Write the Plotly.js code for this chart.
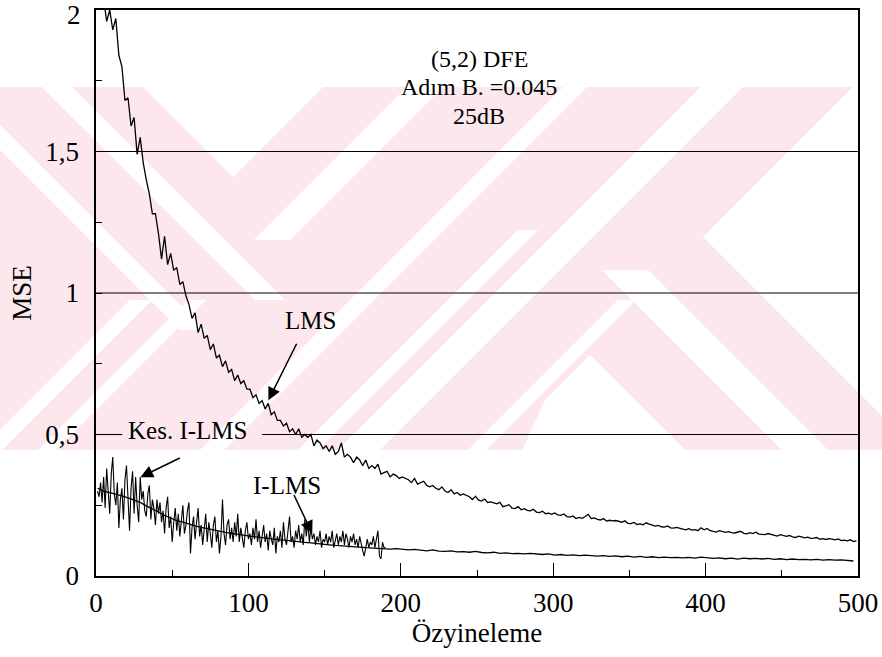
<!DOCTYPE html>
<html>
<head>
<meta charset="utf-8">
<script src="https://cdn.plot.ly/plotly-3.0.1.min.js"></script>
<style>html,body{margin:0;padding:0;background:#fff;}#chart{width:882px;height:657px;}</style>
</head>
<body>
<div id="chart"></div>
<script>
// ---- data ----
// LMS, every 2nd iteration starting at 1
const mseLMS = [
 2.06, 2.02, 2.04, 1.96, 2.00, 1.93, 1.97, 1.84, 1.80, 1.68,
 1.69, 1.59, 1.62, 1.49, 1.55, 1.46, 1.40, 1.35, 1.28, 1.28,
 1.21, 1.12, 1.20, 1.10, 1.14, 1.08, 1.09, 1.03, 1.04, 0.99,
 0.96, 0.91, 0.93, 0.86, 0.89, 0.84, 0.85, 0.80, 0.82, 0.77,
 0.78, 0.74, 0.76, 0.72, 0.73, 0.69, 0.71, 0.68, 0.69, 0.66,
 0.66, 0.63, 0.64, 0.61, 0.62, 0.59, 0.61, 0.57, 0.58, 0.55,
 0.55, 0.53, 0.54, 0.51, 0.52, 0.50, 0.52, 0.49, 0.50, 0.49,
 0.50, 0.46, 0.48, 0.47, 0.45, 0.46, 0.44, 0.46, 0.43, 0.44,
 0.47, 0.42, 0.43, 0.42, 0.40, 0.42, 0.41, 0.39, 0.41, 0.38,
 0.39, 0.38, 0.395, 0.36, 0.365, 0.37, 0.35, 0.36, 0.355, 0.345,
 0.35, 0.345, 0.34, 0.33, 0.345, 0.325, 0.33, 0.335, 0.32, 0.315,
 0.32, 0.31, 0.305, 0.315, 0.30, 0.295, 0.305, 0.29, 0.295, 0.285,
 0.29, 0.285, 0.28, 0.27, 0.282, 0.268, 0.265, 0.272, 0.26, 0.262,
 0.258, 0.255, 0.26, 0.245, 0.248, 0.252, 0.24, 0.238, 0.245, 0.234,
 0.238, 0.232, 0.23, 0.236, 0.226, 0.224, 0.229, 0.22, 0.222, 0.218,
 0.223, 0.216, 0.214, 0.219, 0.21, 0.208, 0.212, 0.203, 0.207, 0.204,
 0.21, 0.218, 0.203, 0.205, 0.2, 0.198, 0.203, 0.194, 0.197, 0.195,
 0.196, 0.192, 0.19, 0.195, 0.186, 0.185, 0.189, 0.182, 0.184, 0.181,
 0.188, 0.183, 0.18, 0.176, 0.179, 0.174, 0.173, 0.177, 0.17, 0.169,
 0.172, 0.168, 0.166, 0.163, 0.167, 0.162, 0.164, 0.16, 0.17, 0.163,
 0.168, 0.16, 0.158, 0.155, 0.16, 0.156, 0.154, 0.157, 0.153, 0.152,
 0.155, 0.158, 0.151, 0.149, 0.153, 0.15, 0.155, 0.148, 0.147, 0.146,
 0.15, 0.147, 0.144, 0.141, 0.146, 0.142, 0.14, 0.143, 0.138, 0.136,
 0.141, 0.138, 0.135, 0.137, 0.133, 0.134, 0.136, 0.13, 0.132, 0.129,
 0.132, 0.13, 0.128, 0.131, 0.125, 0.127, 0.124, 0.128, 0.122, 0.124
];
// I-LMS, every 4th iteration starting at 1
const mseILMS = [
 0.31, 0.30, 0.295, 0.29, 0.283, 0.276, 0.268, 0.26, 0.248, 0.238,
 0.226, 0.214, 0.205, 0.196, 0.19, 0.183, 0.177, 0.172, 0.167, 0.162,
 0.158, 0.154, 0.151, 0.147, 0.144, 0.141, 0.138, 0.135, 0.133, 0.13,
 0.128, 0.126, 0.123, 0.121, 0.119, 0.117, 0.114, 0.112, 0.11, 0.108,
 0.107, 0.105, 0.103, 0.102, 0.1, 0.099, 0.097, 0.098, 0.095, 0.097,
 0.094, 0.092, 0.094, 0.091, 0.089, 0.092, 0.088, 0.087, 0.089, 0.085,
 0.086, 0.084, 0.087, 0.083, 0.082, 0.084, 0.08, 0.082, 0.079, 0.08,
 0.078, 0.08, 0.077, 0.076, 0.078, 0.074, 0.076, 0.073, 0.075, 0.072,
 0.074, 0.071, 0.07, 0.072, 0.069, 0.071, 0.068, 0.07, 0.067, 0.069,
 0.066, 0.068, 0.065, 0.067, 0.065, 0.066, 0.064, 0.066, 0.063, 0.067,
 0.064, 0.062, 0.064, 0.061, 0.063, 0.06, 0.063, 0.061, 0.062, 0.06,
 0.062, 0.059, 0.061, 0.058, 0.06, 0.058, 0.059, 0.057, 0.059, 0.056,
 0.058, 0.056, 0.057, 0.055, 0.053
];
// Kes. I-LMS, every iteration 1..190
const mseKes = [
 0.30, 0.28, 0.33, 0.26, 0.35, 0.24, 0.38, 0.30, 0.22, 0.36,
 0.42, 0.29, 0.25, 0.33, 0.17, 0.27, 0.31, 0.20, 0.34, 0.39,
 0.24, 0.16, 0.31, 0.37, 0.22, 0.35, 0.25, 0.19, 0.35, 0.27,
 0.30, 0.23, 0.21, 0.29, 0.32, 0.20, 0.27, 0.24, 0.18, 0.27,
 0.22, 0.26, 0.19, 0.23, 0.15, 0.24, 0.28, 0.17, 0.21, 0.12,
 0.19, 0.24, 0.16, 0.22, 0.14, 0.20, 0.25, 0.15, 0.18, 0.23,
 0.26, 0.08, 0.17, 0.21, 0.13, 0.19, 0.24, 0.14, 0.18, 0.11,
 0.17, 0.22, 0.12, 0.19, 0.15, 0.10, 0.18, 0.21, 0.12, 0.16,
 0.08, 0.14, 0.27, 0.15, 0.11, 0.18, 0.20, 0.13, 0.17, 0.12,
 0.19, 0.14, 0.22, 0.12, 0.17, 0.14, 0.10, 0.16, 0.19, 0.13,
 0.15, 0.11, 0.17, 0.13, 0.20, 0.12, 0.16, 0.10, 0.14, 0.18,
 0.12, 0.15, 0.09, 0.16, 0.13, 0.11, 0.17, 0.08, 0.14, 0.12,
 0.16, 0.10, 0.19, 0.13, 0.11, 0.15, 0.21, 0.12, 0.14, 0.10,
 0.16, 0.13, 0.18, 0.12, 0.15, 0.11, 0.20, 0.14, 0.19, 0.12,
 0.17, 0.13, 0.15, 0.11, 0.14, 0.12, 0.16, 0.10, 0.13, 0.12,
 0.15, 0.11, 0.14, 0.12, 0.16, 0.10, 0.13, 0.15, 0.11, 0.14,
 0.12, 0.16, 0.11, 0.15, 0.13, 0.10, 0.14, 0.12, 0.15, 0.11,
 0.13, 0.10, 0.14, 0.12, 0.09, 0.07, 0.11, 0.13, 0.10, 0.12,
 0.11, 0.14, 0.10, 0.13, 0.16, 0.07, 0.06, 0.12, 0.10, 0.10
];
const xTickVals = [0, 100, 200, 300, 400, 500];
const yTickVals = [0, 0.5, 1, 1.5, 2];
const yTickText = ['0', '0,5', '1', '1,5', ''];   // the top label "2" is placed below as text
const yTopLabel = '2';
const gridLevels = [1, 1.5];

// iteration indices
const itLMS = mseLMS.map((_, i) => 1 + 2 * i);
const itILMS = mseILMS.map((_, i) => 1 + 4 * i);
const itKes = mseKes.map((_, i) => 1 + i);

const FONT = 'Liberation Serif, Times New Roman, serif';
const INK = '#000';

// ---- background watermark (decoration), pixel coords -> paper ----
const L = 96, T = 10, W = 762, H = 566;
function P(px, py) { return ((px - L) / W).toFixed(4) + ',' + ((T + H - py) / H).toFixed(4); }
function poly(pts) { return 'M' + pts.map(p => P(p[0], p[1])).join('L') + 'Z'; }
function fwd(c1, c2, ya, yb) { return poly([[c1 - ya, ya], [c2 - ya, ya], [c2 - yb, yb], [c1 - yb, yb]]); }
function bwd(d1, d2, ya, yb) { return poly([[d1 + ya, ya], [d2 + ya, ya], [d2 + yb, yb], [d1 + yb, yb]]); }
const PINK = '#fce8ec', WHITE = '#ffffff';
const shapes = [];
function wm(path, color) { shapes.push({type: 'path', xref: 'paper', yref: 'paper', path: path, fillcolor: color, line: {width: 0}, layer: 'below'}); }
wm(poly([[0, 87], [882, 87], [882, 450], [0, 450]]), PINK);
wm(poly([[143, 87], [323, 87], [233, 177]]), WHITE);
wm(bwd(-45, -15, 80, 300), WHITE);
wm(bwd(-150, -125, 80, 330), WHITE);
wm(fwd(430, 452, 300, 460), WHITE);
wm(fwd(488, 506, 300, 460), WHITE);
wm(fwd(494, 530, 80, 240), WHITE);
wm(fwd(650, 674, 80, 460), WHITE);
wm(fwd(748, 768, 230, 460), WHITE);
wm(fwd(788, 830, 80, 460), WHITE);
wm(fwd(918, 936, 300, 460), WHITE);
wm(poly([[703, 237], [853, 87], [890, 87], [890, 424]]), WHITE);
wm(bwd(332, 378, 270, 460), WHITE);
wm(poly([[590, 355], [690, 455], [520, 455], [545, 400]]), WHITE);

// gridlines
gridLevels.forEach(g => shapes.push({type: 'line', xref: 'x', yref: 'y', x0: 0, x1: 500, y0: g, y1: g, line: {color: INK, width: 1.1}, layer: 'below'}));
shapes.push({type: 'line', xref: 'x', yref: 'y', x0: 0, x1: 17.3, y0: 0.5, y1: 0.5, line: {color: INK, width: 1.1}, layer: 'below'});
shapes.push({type: 'line', xref: 'x', yref: 'y', x0: 109, x1: 500, y0: 0.5, y1: 0.5, line: {color: INK, width: 1.1}, layer: 'below'});

const traces = [
  {x: itLMS, y: mseLMS, type: 'scatter', mode: 'lines', line: {color: '#000', width: 1.3}, name: 'LMS'},
  {x: itILMS, y: mseILMS, type: 'scatter', mode: 'lines', line: {color: '#000', width: 1.3}, name: 'I-LMS'},
  {x: itKes, y: mseKes, type: 'scatter', mode: 'lines', line: {color: '#000', width: 1.1}, name: 'Kes. I-LMS'}
];

function txt(x, y, t, size) { return {x: x, y: y, xref: 'x', yref: 'y', text: t, showarrow: false, font: {family: FONT, size: size, color: INK}, xanchor: 'center', yanchor: 'middle'}; }
function arr(x, y, ax, ay) { return {x: x, y: y, xref: 'x', yref: 'y', ax: ax, ay: ay, text: '', showarrow: true, arrowhead: 2, arrowsize: 1.7, arrowwidth: 1.5, arrowcolor: INK, standoff: 0}; }

const annotations = [
  txt(251.5, 1.828, '(5,2) DFE', 24),
  txt(251.5, 1.727, 'Adım B. =0.045', 24),
  txt(251.5, 1.626, '25dB', 24),
  txt(140.6, 0.904, 'LMS', 25),
  txt(59.9, 0.515, 'Kes. I-LMS', 25),
  txt(125.5, 0.32, 'I-LMS', 25),
  arr(113.1, 0.621, 29, -58),
  arr(29.1, 0.349, 41, -20),
  arr(141.9, 0.15, -19, -40),
  {x: 0, y: yTickVals[4], xref: 'paper', yref: 'y', text: yTopLabel, showarrow: false,
   xanchor: 'right', yanchor: 'top', xshift: -14, yshift: 11, borderpad: 0,
   font: {family: FONT, size: 27, color: INK}}
];

const layout = {
  width: 882, height: 657,
  margin: {l: 96, r: 24, t: 10, b: 81},
  paper_bgcolor: '#fff', plot_bgcolor: 'rgba(0,0,0,0)',
  showlegend: false,
  font: {family: FONT, color: INK},
  xaxis: {
    range: [0, 500], tickmode: 'array', tickvals: xTickVals,
    ticks: 'inside', ticklen: 13, tickwidth: 1.2, tickcolor: INK,
    minor: {tickmode: 'linear', tick0: 0, dtick: 50, ticks: 'inside', ticklen: 6, tickwidth: 1, tickcolor: INK},
    showline: true, mirror: true, linecolor: INK, linewidth: 1.6,
    showgrid: false, zeroline: false,
    tickfont: {family: FONT, size: 27, color: INK}, ticklabelstandoff: 2,
    title: {text: 'Özyineleme', font: {family: FONT, size: 27, color: INK}, standoff: 4}
  },
  yaxis: {
    range: [0, 2], tickmode: 'array', tickvals: yTickVals, ticktext: yTickText,
    ticks: 'inside', ticklen: 6, tickwidth: 1, tickcolor: INK,
    minor: {tickmode: 'linear', tick0: 0, dtick: 0.25, ticks: 'inside', ticklen: 6, tickwidth: 1, tickcolor: INK},
    showline: true, mirror: true, linecolor: INK, linewidth: 1.6,
    showgrid: false, zeroline: false,
    tickfont: {family: FONT, size: 27, color: INK}, ticklabelstandoff: 10,
    title: {text: 'MSE', font: {family: FONT, size: 27, color: INK}, standoff: 6}
  },
  shapes: shapes,
  annotations: annotations
};

Plotly.newPlot('chart', traces, layout, {staticPlot: true, displayModeBar: false});
</script>
</body>
</html>
